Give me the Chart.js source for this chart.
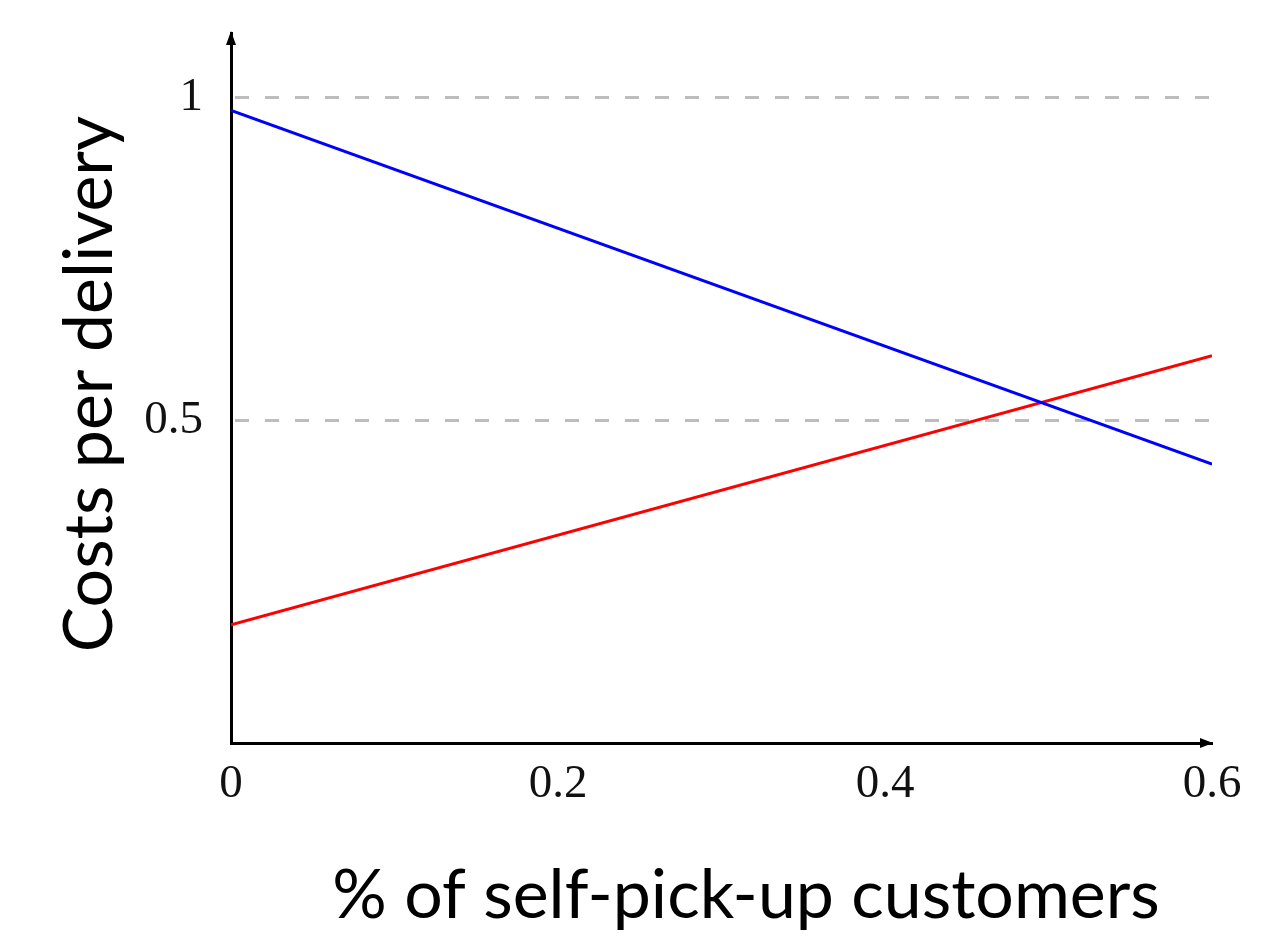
<!DOCTYPE html>
<html>
<head>
<meta charset="utf-8">
<title>Costs per delivery</title>
<script src="https://cdn.jsdelivr.net/npm/chart.js@4.4.1/dist/chart.umd.min.js"></script>
<style>
  html,body{margin:0;padding:0;background:#fff;}
  #wrap{width:1278px;height:936px;}
</style>
</head>
<body>
<div id="wrap"><canvas id="costChart" width="1278" height="936"></canvas></div>
<script>
/* === DATA === */
const shareSelfPickup = [0, 0.6];
const costHomeDelivery = [0.98, 0.432];
const costSelfPickup = [0.183, 0.60];
const xTickValues = [0, 0.2, 0.4, 0.6];
const xTickLabels = ["0", "0.2", "0.4", "0.6"];
const yTickValues = [0.5, 1];
const yTickLabels = ["0.5", "1"];
const xTitle = "% of self-pick-up customers";
const yTitle = "Costs per delivery";

const serif = "'Liberation Serif', 'DejaVu Serif', serif";
const sans = "Lato, 'Open Sans', 'Noto Sans', sans-serif";

function toPoints(xs, ys){ return xs.map((x,i)=>({x:x, y:ys[i]})); }

/* === AXIS ARROWS + TITLES === */
const decorPlugin = {
  id: "decor",
  afterDraw(chart){
    const ctx = chart.ctx, a = chart.chartArea;
    ctx.save();
    ctx.fillStyle = "#000";
    // y arrow
    ctx.beginPath();
    ctx.moveTo(a.left, a.top - 2);
    ctx.lineTo(a.left - 5, a.top + 12);
    ctx.lineTo(a.left + 5, a.top + 12);
    ctx.closePath(); ctx.fill();
    // x arrow
    ctx.beginPath();
    ctx.moveTo(a.right + 1, a.bottom);
    ctx.lineTo(a.right - 12, a.bottom - 5);
    ctx.lineTo(a.right - 12, a.bottom + 5);
    ctx.closePath(); ctx.fill();

    // titles
    ctx.font = "68px " + sans;
    ctx.textAlign = "center";
    ctx.textBaseline = "alphabetic";
    ctx.fillText(xTitle, 746, 918);
    ctx.translate(112, 384);
    ctx.rotate(-Math.PI/2);
    ctx.fillText(yTitle, 0, 0);
    ctx.restore();
  }
};

/* === CHART === */
const ctx = document.getElementById("costChart").getContext("2d");
new Chart(ctx, {
  type: "line",
  data: {
    datasets: [
      {label:"Home delivery", data: toPoints(shareSelfPickup, costHomeDelivery), borderColor:"#0000ff", borderWidth:3, pointRadius:0, fill:false, tension:0},
      {label:"Self pick-up", data: toPoints(shareSelfPickup, costSelfPickup), borderColor:"#ff0000", borderWidth:3, pointRadius:0, fill:false, tension:0}
    ]
  },
  options: {
    responsive: false,
    animation: false,
    layout: { padding: { left: 0, right: 66, top: 33, bottom: 0 } },
    plugins: { legend: {display:false}, tooltip: {enabled:false} },
    scales: {
      x: {
        type: "linear",
        min: 0, max: 0.6,
        afterBuildTicks: s => { s.ticks = xTickValues.map(v=>({value:v})); },
        afterFit: s => { s.height = 936 - 743; s.paddingLeft = 0; s.paddingRight = 0; },
        grid: { drawOnChartArea:false, drawTicks:false },
        border: { color:"#000", width:3 },
        ticks: {
          padding: 13,
          color: "#111",
          font: { family: serif, size: 47 },
          maxRotation: 0,
          callback: (v) => xTickLabels[xTickValues.indexOf(v)]
        }
      },
      y: {
        type: "linear",
        min: 0, max: 1.1,
        afterBuildTicks: s => { s.ticks = yTickValues.map(v=>({value:v})); },
        afterFit: s => { s.width = 231; s.paddingTop = 0; s.paddingBottom = 0; },
        grid: { color:"#bdbdbd", lineWidth:3, drawTicks:false },
        border: { color:"#000", width:3, dash:[14,16], dashOffset:-2 },
        ticks: {
          padding: 28,
          color: "#111",
          font: { family: serif, size: 47 },
          callback: (v) => yTickLabels[yTickValues.indexOf(v)]
        }
      }
    }
  },
  plugins: [decorPlugin]
});
</script>
</body>
</html>
